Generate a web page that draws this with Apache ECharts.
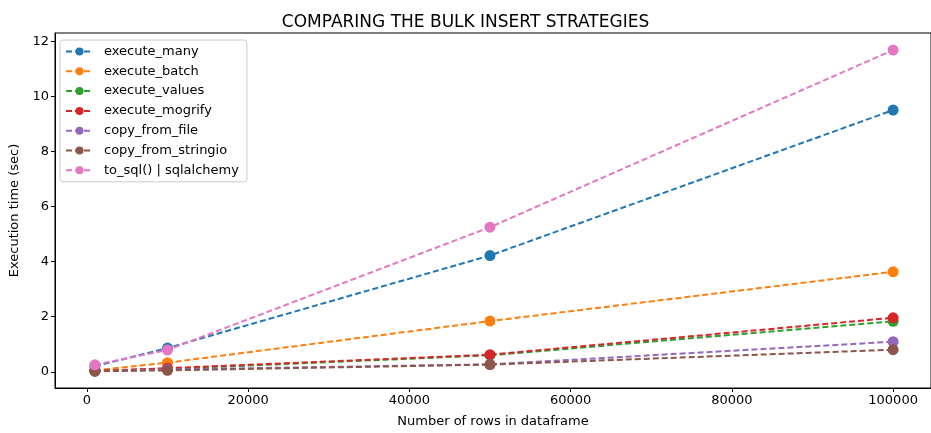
<!DOCTYPE html>
<html><head><meta charset="utf-8">
<script src="https://cdn.jsdelivr.net/npm/echarts@6/dist/echarts.min.js"></script>
<style>html,body{margin:0;padding:0;background:#fff}#c{width:931px;height:433px}</style>
</head><body><div id="c"></div>
<script>
const rows = [1000, 10000, 50000, 100000];
const seriesNames = ['execute_many','execute_batch','execute_values','execute_mogrify','copy_from_file','copy_from_stringio','to_sql() | sqlalchemy'];
const execute_many = [0.2, 0.86, 4.22, 9.5];
const execute_batch = [0.05, 0.33, 1.84, 3.63];
const execute_values = [0.03, 0.1, 0.6, 1.83];
const execute_mogrify = [0.03, 0.13, 0.62, 1.96];
const copy_from_file = [0.02, 0.08, 0.27, 1.09];
const copy_from_stringio = [0.02, 0.05, 0.26, 0.8];
const to_sql = [0.25, 0.79, 5.25, 11.68];
const xTicks = [0, 20000, 40000, 60000, 80000, 100000];
const yTicks = [0, 2, 4, 6, 8, 10, 12];
const colors = ['#1f77b4','#ff7f0e','#2ca02c','#d62728','#9467bd','#8c564b','#e377c2'];
const allData = [execute_many, execute_batch, execute_values, execute_mogrify, copy_from_file, copy_from_stringio, to_sql];

const font = 'DejaVu Sans';
const chart = echarts.init(document.getElementById('c'), null, {renderer:'canvas'});
chart.setOption({
  animation:false,
  title:{text:'COMPARING THE BULK INSERT STRATEGIES', left:'center', top:9,
    textStyle:{fontFamily:font, fontSize:17, fontWeight:'normal', color:'#000'}},
  grid:{left:54, right:0, top:33, bottom:41, show:true, borderColor:'#000', borderWidth:1, backgroundColor:'transparent'},
  legend:{orient:'vertical', left:60, top:40, itemWidth:27, itemHeight:10, itemGap:6.8,
    backgroundColor:'#fff', borderColor:'#ccc', borderWidth:1, borderRadius:3, padding:[5,8,5,5],
    textStyle:{fontFamily:font, fontSize:13, color:'#000', padding:[0,0,0,6]}, data:seriesNames},
  xAxis:{type:'value', min:-3950, max:104700,
    name:'Number of rows in dataframe', nameLocation:'middle', nameGap:27,
    nameTextStyle:{fontFamily:font, fontSize:13, color:'#000'},
    splitLine:{show:false},
    axisLine:{show:true, onZero:false, lineStyle:{color:'#000'}},
    axisTick:{show:true, inside:false, length:4, customValues:xTicks, lineStyle:{color:'#000'}},
    axisLabel:{customValues:xTicks, formatter:v=>String(v), fontFamily:font, fontSize:13, color:'#000', margin:6}},
  yAxis:{type:'value', min:-0.59, max:12.3,
    name:'Execution time (sec)', nameLocation:'middle', nameGap:34,
    nameTextStyle:{fontFamily:font, fontSize:13, color:'#000'},
    splitLine:{show:false},
    axisLine:{show:true, onZero:false, lineStyle:{color:'#000'}},
    axisTick:{show:true, inside:false, length:4, customValues:yTicks, lineStyle:{color:'#000'}},
    axisLabel:{customValues:yTicks, formatter:v=>String(v), fontFamily:font, fontSize:13, color:'#000', margin:6}},
  series: seriesNames.map((n,i)=>({
    name:n, type:'line', data: rows.map((r,j)=>[r, allData[i][j]]),
    symbol:'circle', symbolSize:11, showSymbol:true,
    color:colors[i], itemStyle:{color:colors[i]},
    lineStyle:{type:[6,3], width:2, color:colors[i]}, z:2+i
  }))
});
</script></body></html>
